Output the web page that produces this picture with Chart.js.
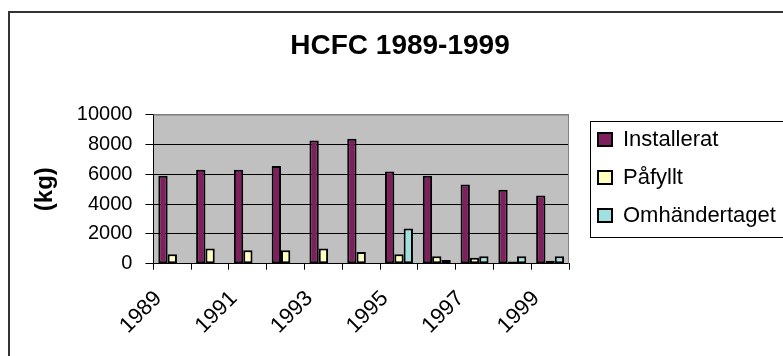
<!DOCTYPE html>
<html lang="sv">
<head>
    <meta charset="UTF-8">
    <title>HCFC 1989-1999</title>
    <script src="https://cdn.jsdelivr.net/npm/chart.js"></script>
    <style>
        body {
            margin: 0;
            padding: 0;
            background: #ffffff;
            overflow: hidden;
            width: 783px;
            height: 356px;
            position: relative;
        }
        .frame {
            position: absolute;
            left: 8px;
            top: 11px;
            width: 900px;
            height: 500px;
            border: 2px solid #333;
        }
        canvas {
            position: absolute;
            left: 0;
            top: 0;
        }
    </style>
</head>
<body>
    <div class="frame"></div>
    <canvas id="hcfcChart" width="790" height="356"></canvas>

    <script>
        // Data (kg)
        const years = ['1989', '1990', '1991', '1992', '1993', '1994', '1995', '1996', '1997', '1998', '1999'];
        const tickLabels = ['1989', '', '1991', '', '1993', '', '1995', '', '1997', '', '1999'];
        const installerat = [5900, 6300, 6300, 6550, 8270, 8380, 6180, 5900, 5320, 4960, 4570];
        const pafyllt = [640, 1020, 900, 900, 1020, 780, 640, 500, 400, 150, 200];
        const omhandertaget = [0, 0, 0, 0, 0, 0, 2370, 250, 500, 500, 500];

        const FONT = "'Liberation Sans', Arial, sans-serif";
        const LEGEND_WIDTH = 221;   // legend is wider than Chart.js allows a side box to be
        const LEGEND_SHIFT = 13;    // gap between plot area and legend

        // grey plot area + grey top/right border, and a box round the legend
        const plotArea = {
            id: 'plotArea',
            afterInit(chart) {
                const lg = chart.legend;
                const fit = lg.fit;
                lg.fit = function () {
                    fit.call(this);
                    this.width = LEGEND_WIDTH;
                };
            },
            afterLayout(chart) {
                chart.legend.left += LEGEND_SHIFT;
                chart.legend.right += LEGEND_SHIFT;
            },
            beforeDraw(chart) {
                const { ctx, chartArea: a } = chart;
                ctx.save();
                ctx.fillStyle = '#c0c0c0';
                ctx.fillRect(a.left, a.top, a.right - a.left, a.bottom - a.top);
                ctx.restore();
            },
            beforeDatasetsDraw(chart) {
                const { ctx, chartArea: a } = chart;
                ctx.save();
                ctx.strokeStyle = '#808080';
                ctx.lineWidth = 1;
                ctx.beginPath();
                ctx.moveTo(a.left, a.top + 0.5);
                ctx.lineTo(a.right - 0.5, a.top + 0.5);
                ctx.lineTo(a.right - 0.5, a.bottom);
                ctx.stroke();
                ctx.restore();
            },
            afterDraw(chart) {
                const hb = chart.legend.legendHitBoxes;
                if (!hb || !hb.length) return;
                const ctx = chart.ctx;
                const left = hb[0].left - 8;
                const top = hb[0].top - 8;
                const last = hb[hb.length - 1];
                const bottom = last.top + last.height + 10;
                ctx.save();
                ctx.strokeStyle = '#000';
                ctx.lineWidth = 1;
                ctx.strokeRect(Math.round(left) + 0.5, Math.round(top) + 0.5, chart.width, Math.round(bottom - top));
                ctx.restore();
            }
        };

        const ctx = document.getElementById('hcfcChart').getContext('2d');
        new Chart(ctx, {
            type: 'bar',
            data: {
                labels: years,
                datasets: [
                    { label: 'Installerat', data: installerat, backgroundColor: '#801f5f' },
                    { label: 'Påfyllt', data: pafyllt, backgroundColor: '#ffffc0' },
                    { label: 'Omhändertaget', data: omhandertaget, backgroundColor: '#a0e0e0' }
                ].map(d => Object.assign(d, {
                    borderColor: '#000',
                    borderWidth: 2,
                    borderSkipped: false,
                    categoryPercentage: 0.74,
                    barPercentage: 1.0
                }))
            },
            options: {
                responsive: false,
                animation: false,
                layout: { padding: { left: 10, right: 0, top: 0, bottom: 1 } },
                plugins: {
                    title: {
                        display: true,
                        text: 'HCFC 1989-1999',
                        color: '#000',
                        font: { family: FONT, size: 28, weight: 'bold' },
                        padding: { top: 29, bottom: 52 }
                    },
                    legend: {
                        position: 'right',
                        labels: {
                            color: '#000',
                            font: { family: FONT, size: 22 },
                            boxWidth: 14,
                            boxHeight: 13,
                            padding: 16
                        }
                    },
                    tooltip: { enabled: false }
                },
                scales: {
                    x: {
                        grid: {
                            display: true,
                            drawOnChartArea: false,
                            drawTicks: true,
                            tickLength: 6,
                            color: '#000'
                        },
                        border: { display: true, color: '#000', width: 1 },
                        ticks: {
                            autoSkip: false,
                            maxRotation: 45,
                            minRotation: 45,
                            padding: 16,
                            labelOffset: -14,
                            color: '#000',
                            font: { family: FONT, size: 22 },
                            callback: (v, i) => tickLabels[i]
                        }
                    },
                    y: {
                        min: 0,
                        max: 10000,
                        ticks: {
                            stepSize: 2000,
                            autoSkip: false,
                            color: '#000',
                            padding: 13,
                            font: { family: FONT, size: 20 },
                            callback: v => String(v)
                        },
                        grid: {
                            color: c => (c.tick && c.tick.value === 10000) ? '#808080' : '#000',
                            tickColor: '#000',
                            tickLength: 8
                        },
                        border: { display: true, color: '#000', width: 1 },
                        title: {
                            display: true,
                            text: '(kg)',
                            color: '#000',
                            font: { family: FONT, size: 24, weight: 'bold' },
                            padding: { top: 21, bottom: 4 }
                        }
                    }
                }
            },
            plugins: [plotArea]
        });
    </script>
</body>
</html>
